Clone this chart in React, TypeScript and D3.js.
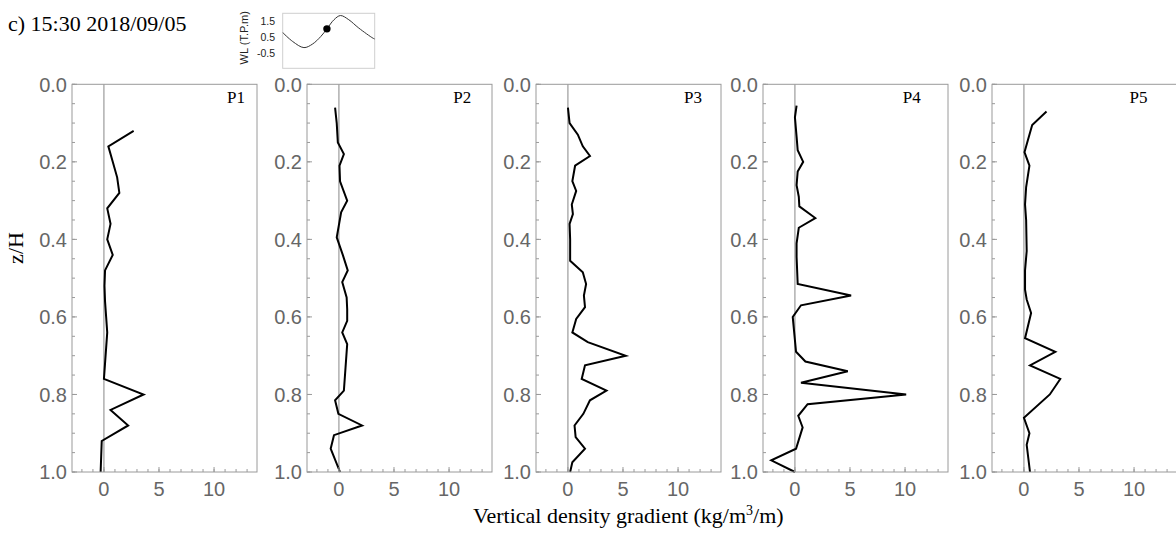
import React from "react";
import * as d3 from "d3";

// ---------- data ----------
const title = "c) 15:30 2018/09/05";
const panelNames = ["P1", "P2", "P3", "P4", "P5"];

const p1Depth = [0.12, 0.16, 0.2, 0.24, 0.28, 0.32, 0.36, 0.4, 0.44, 0.48, 0.52, 0.56, 0.6, 0.64, 0.68, 0.72, 0.76, 0.8, 0.84, 0.88, 0.92, 0.96, 1.0];
const p1Grad = [2.7, 0.4, 0.8, 1.2, 1.4, 0.3, 0.6, 0.3, 0.8, 0.1, 0.05, 0.1, 0.2, 0.3, 0.2, 0.1, 0.0, 3.6, 0.6, 2.2, -0.2, -0.25, -0.3];

const p2Depth = [0.06, 0.1, 0.15, 0.18, 0.21, 0.25, 0.3, 0.33, 0.395, 0.44, 0.48, 0.51, 0.55, 0.58, 0.61, 0.64, 0.67, 0.73, 0.79, 0.815, 0.85, 0.88, 0.905, 0.94, 1.0];
const p2Grad = [-0.35, -0.2, -0.1, 0.45, 0.05, 0.1, 0.75, 0.2, -0.2, 0.35, 0.8, 0.3, 0.7, 0.75, 0.75, 0.3, 0.75, 0.6, 0.45, -0.35, -0.05, 2.1, -0.45, -0.75, 0.1];

const p3Depth = [0.06, 0.1, 0.13, 0.16, 0.185, 0.21, 0.25, 0.275, 0.31, 0.335, 0.36, 0.4, 0.455, 0.485, 0.515, 0.545, 0.575, 0.605, 0.64, 0.665, 0.7, 0.725, 0.76, 0.79, 0.815, 0.85, 0.88, 0.91, 0.94, 0.975, 1.0];
const p3Grad = [0.0, 0.15, 0.9, 1.35, 2.0, 0.65, 0.4, 0.75, 0.35, 0.45, 0.15, 0.2, 0.2, 1.35, 1.65, 1.45, 1.55, 0.75, 0.4, 1.8, 5.25, 1.55, 1.25, 3.5, 2.0, 1.4, 0.6, 0.7, 1.55, 0.4, 0.2];

const p4Depth = [0.055, 0.085, 0.135, 0.17, 0.2, 0.225, 0.26, 0.29, 0.315, 0.345, 0.37, 0.41, 0.445, 0.515, 0.545, 0.57, 0.6, 0.69, 0.715, 0.74, 0.77, 0.8, 0.825, 0.855, 0.885, 0.94, 0.97, 1.0];
const p4Grad = [0.15, 0.0, 0.15, 0.25, 0.75, 0.25, 0.15, 0.35, 0.4, 1.85, 0.35, 0.15, 0.15, 0.25, 5.1, 0.55, -0.2, 0.1, 0.95, 4.8, 0.55, 10.1, 1.15, 0.3, 0.7, 0.1, -2.15, 0.0];

const p5Depth = [0.07, 0.105, 0.145, 0.175, 0.21, 0.265, 0.31, 0.35, 0.43, 0.48, 0.53, 0.555, 0.59, 0.655, 0.69, 0.725, 0.76, 0.8, 0.86, 0.9, 0.93, 1.0];
const p5Grad = [2.05, 0.75, 0.35, 0.05, 0.5, 0.2, 0.1, 0.2, 0.25, 0.1, 0.1, 0.25, 0.65, 0.1, 2.85, 0.55, 3.3, 2.35, 0.0, 0.5, 0.25, 0.55];

const depths = [p1Depth, p2Depth, p3Depth, p4Depth, p5Depth];
const grads = [p1Grad, p2Grad, p3Grad, p4Grad, p5Grad];

const yMajorTicks = [0, 0.2, 0.4, 0.6, 0.8, 1.0];
const yMinorTicks = d3.range(0, 1.0001, 0.05);
const xMajorTicks = [0, 5, 10];
const xMinorTicks = d3.range(-2, 14, 1);

// inset: water level (T.P. m) over hours
const wlHours = [8.0, 9.7, 11.6, 13.05, 14.45, 15.5, 16.7, 17.8, 19.2, 20.9, 23.3, 23.6];
const wlLevel = [0.8, 0.24, -0.14, 0.08, 0.55, 1.03, 1.6, 1.86, 1.6, 1.08, 0.45, 0.4];
const wlTicks = [1.5, 0.5, -0.5];
const currentHour = 15.5;
const currentLevel = 1.03;

const xLabel = "Vertical density gradient (kg/m";
const yLabel = "z/H";

// ---------- layout ----------
const W = 1176;
const H = 534;
const panelLeft = [72, 307, 536, 763, 992];
const panelW = 185;
const top = 84.3;
const bottom = 472;
const labelDataX = [12.0, 11.2, 11.35, 10.6, 10.4];

const tickColor = "#666";
const frameColor = "#9a9a9a";
const sans = "Liberation Sans, Arial, sans-serif";
const serif = "Liberation Serif, 'Times New Roman', serif";

function Panel({ i }: { i: number }) {
  const x0 = panelLeft[i];
  const x = d3.scaleLinear().domain([-2.9, 13.9]).range([x0, x0 + panelW]);
  const y = d3.scaleLinear().domain([0, 1]).range([top, bottom]);
  const pts = depths[i].map((z, k) => [grads[i][k], z] as [number, number]);
  const line = d3
    .line<[number, number]>()
    .x((d) => x(d[0]))
    .y((d) => y(d[1]));
  return (
    <g>
      <rect x={x0} y={top} width={panelW} height={bottom - top} fill="white" stroke="none" />
      {/* zero line */}
      <line x1={x(0)} x2={x(0)} y1={top} y2={bottom} stroke="#888" strokeWidth={1} />
      <path d={line(pts) || ""} fill="none" stroke="#000" strokeWidth={2} strokeLinejoin="miter" />
      {/* frame */}
      <rect x={x0} y={top} width={panelW} height={bottom - top} fill="none" stroke={frameColor} strokeWidth={1} />
      {/* y ticks */}
      {yMinorTicks.map((t, k) => (
        <line key={"ym" + k} x1={x0} x2={x0 + 3} y1={y(t)} y2={y(t)} stroke={frameColor} strokeWidth={1} />
      ))}
      {yMajorTicks.map((t, k) => (
        <g key={"yM" + k}>
          <line x1={x0} x2={x0 + 5} y1={y(t)} y2={y(t)} stroke={frameColor} strokeWidth={1} />
          <text x={x0 - 5} y={y(t)} dy="0.36em" textAnchor="end" fontFamily={sans} fontSize={20} fill={tickColor}>
            {d3.format(".1f")(t)}
          </text>
        </g>
      ))}
      {/* x ticks */}
      {xMinorTicks.map((t, k) => (
        <line key={"xm" + k} x1={x(t)} x2={x(t)} y1={bottom} y2={bottom - 3} stroke={frameColor} strokeWidth={1} />
      ))}
      {xMajorTicks.map((t, k) => (
        <g key={"xM" + k}>
          <line x1={x(t)} x2={x(t)} y1={bottom} y2={bottom - 5} stroke={frameColor} strokeWidth={1} />
          <text x={x(t)} y={496} textAnchor="middle" fontFamily={sans} fontSize={20} fill={tickColor}>
            {t}
          </text>
        </g>
      ))}
      <text x={x(labelDataX[i])} y={103} textAnchor="middle" fontFamily={serif} fontSize={17} fill="#000">
        {panelNames[i]}
      </text>
    </g>
  );
}

function Inset() {
  const left = 282.7;
  const right = 374.7;
  const t = 13.3;
  const b = 68.3;
  const x = d3.scaleLinear().domain([8, 23.6]).range([left, right]);
  const y = d3.scaleLinear().domain([-1.43, 2.0]).range([b, t]);
  const pts = wlHours.map((h, k) => [h, wlLevel[k]] as [number, number]);
  const line = d3
    .line<[number, number]>()
    .x((d) => x(d[0]))
    .y((d) => y(d[1]))
    .curve(d3.curveCatmullRom.alpha(0.5));
  return (
    <g>
      <rect x={left} y={t} width={right - left} height={b - t} fill="white" stroke="#cfcfcf" strokeWidth={1} />
      <path d={line(pts) || ""} fill="none" stroke="#333" strokeWidth={1} />
      <circle cx={x(currentHour)} cy={y(currentLevel)} r={3.7} fill="#000" />
      {wlTicks.map((v, k) => (
        <text key={k} x={275} y={y(v)} dy="0.36em" textAnchor="end" fontFamily={sans} fontSize={10.5} fill="#222">
          {v}
        </text>
      ))}
      <text
        transform={`translate(247.5, ${(t + b) / 2 - 3}) rotate(-90)`}
        textAnchor="middle"
        fontFamily={sans}
        fontSize={11}
        fill="#222"
      >
        WL (T.P.m)
      </text>
    </g>
  );
}

export default function App() {
  return (
    <svg
      width={W}
      height={H}
      viewBox={`0 0 ${W} ${H}`}
      style={{ position: "absolute", left: 0, top: 0, background: "white" }}
    >
      <rect x={0} y={0} width={W} height={H} fill="white" />
      <text x={8} y={31} fontFamily={serif} fontSize={22} fill="#000">
        {title}
      </text>
      <Inset />
      {panelNames.map((_, i) => (
        <Panel key={i} i={i} />
      ))}
      <text
        transform="translate(23, 248) rotate(-90)"
        textAnchor="middle"
        fontFamily={serif}
        fontSize={22}
        fill="#000"
      >
        {yLabel}
      </text>
      <text x={473} y={523} fontFamily={serif} fontSize={22} fill="#000">
        {xLabel}
        <tspan dy={-8} fontSize={14}>3</tspan>
        <tspan dy={8}>/m)</tspan>
      </text>
    </svg>
  );
}
